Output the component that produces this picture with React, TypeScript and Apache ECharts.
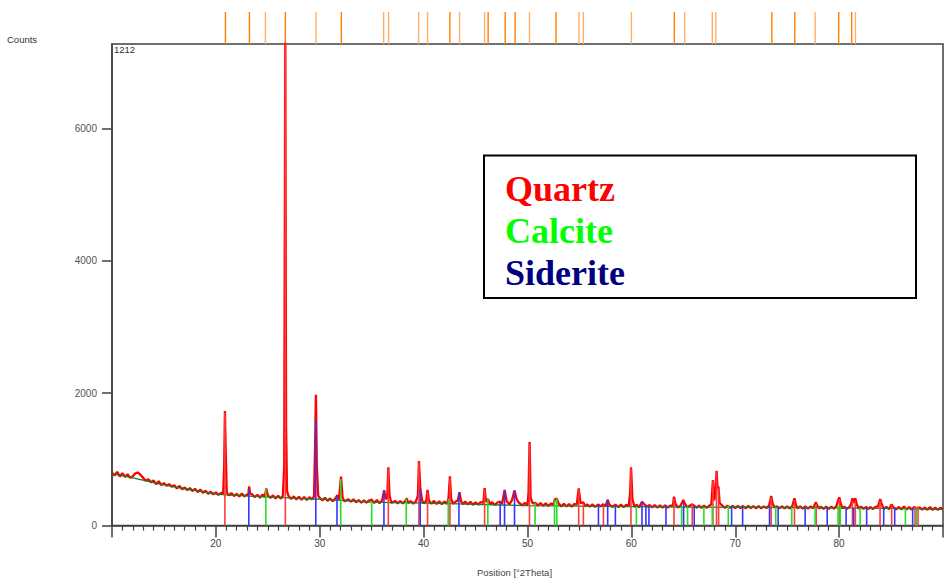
import React, { useEffect, useRef } from "react";
import * as echarts from "echarts";

// Measured scan (2Theta, counts)
const scanProfile: [number, number][] = [
  [10,800],[10.25,755],[10.5,810],[10.75,740],[11,790],[11.25,735],[11.5,775],[11.75,720],
  [12,745],[12.25,790],[12.5,800],[12.75,765],[13,720],[13.25,675],[13.5,700],[13.75,655],
  [14,680],[14.25,625],[14.5,670],[14.75,610],[15,640],[15.25,600],[15.5,625],[15.75,585],
  [16,610],[16.25,560],[16.5,600],[16.75,545],[17,575],[17.25,535],[17.5,565],[17.75,520],
  [18,555],[18.25,505],[18.5,545],[18.75,495],[19,525],[19.25,480],[19.5,510],[19.75,470],
  [20,500],[20.25,462],[20.5,495],[20.7,470],[20.8,900],[20.87,1730],[20.95,1100],[21.05,500],[21.25,455],[21.5,490],[21.75,445],
  [22,480],[22.25,438],[22.5,485],[22.75,440],[23,470],[23.12,455],[23.2,590],[23.3,480],[23.5,470],[23.75,428],
  [24,465],[24.25,420],[24.5,470],[24.7,428],[24.85,560],[25,455],[25.25,418],[25.5,455],[25.75,410],
  [26,450],[26.25,405],[26.45,450],[26.58,900],[26.68,7400],[26.76,1500],[26.85,520],[27,445],[27.25,400],[27.5,440],[27.75,395],
  [28,435],[28.25,390],[28.5,430],[28.75,385],[29,428],[29.25,395],[29.45,440],[29.55,1200],[29.63,1975],[29.72,900],[29.85,450],[30,420],[30.25,378],[30.5,420],[30.75,372],
  [31,410],[31.25,365],[31.5,410],[31.7,460],[31.85,390],[32.05,740],[32.2,420],[32.4,365],[32.75,395],
  [33,360],[33.25,395],[33.5,350],[33.75,385],[34,345],[34.25,380],[34.5,345],[34.75,378],[35,390],[35.25,340],[35.5,385],[35.75,338],
  [36,378],[36.2,535],[36.35,400],[36.5,420],[36.6,880],[36.72,450],[36.9,340],[37.25,372],[37.5,335],[37.75,370],
  [38,335],[38.25,372],[38.38,410],[38.5,340],[38.75,368],[39,330],[39.25,365],[39.45,450],[39.55,975],[39.68,560],[39.85,380],[40,335],[40.25,375],[40.38,540],[40.5,380],[40.75,330],
  [41,372],[41.25,325],[41.5,368],[41.75,322],[42,362],[42.25,328],[42.4,420],[42.53,745],[42.65,400],[42.85,330],[43.1,362],[43.3,380],[43.45,502],[43.6,370],[43.8,322],
  [44,362],[44.25,318],[44.5,360],[44.75,312],[45,352],[45.25,315],[45.5,355],[45.75,340],[45.87,565],[46,360],[46.2,400],[46.35,330],[46.6,350],[46.85,310],
  [47.1,348],[47.37,360],[47.55,330],[47.8,538],[48,365],[48.25,320],[48.5,380],[48.75,528],[48.95,400],[49.2,340],[49.5,305],[49.75,345],
  [50,305],[50.1,500],[50.2,1262],[50.3,420],[50.5,335],[50.75,342],[51,300],[51.25,340],[51.5,298],[51.75,335],
  [52,295],[52.25,332],[52.5,320],[52.65,400],[52.82,405],[53,330],[53.25,290],[53.5,328],[53.75,288],
  [54,325],[54.25,286],[54.5,322],[54.75,318],[54.93,562],[55.1,340],[55.38,350],[55.55,290],[55.75,320],
  [56,285],[56.25,318],[56.5,282],[56.83,320],[57,285],[57.3,322],[57.5,290],[57.72,388],[57.9,310],[58.2,280],[58.46,315],[58.75,278],
  [59,315],[59.25,276],[59.5,312],[59.75,300],[59.88,500],[59.97,880],[60.1,400],[60.3,280],[60.5,312],[60.75,275],
  [61.02,360],[61.25,320],[61.5,285],[61.75,310],[62,274],[62.25,308],[62.5,272],[62.75,305],
  [63,272],[63.25,305],[63.5,270],[63.75,300],[64,300],[64.1,435],[64.25,320],[64.5,272],[64.75,305],[65,385],[65.15,330],[65.4,275],[65.6,300],[65.86,320],[66.05,300],[66.3,268],[66.5,302],[66.75,266],
  [67,300],[67.25,268],[67.5,300],[67.7,320],[67.85,688],[67.98,380],[68.1,500],[68.2,825],[68.3,560],[68.38,587],[68.5,340],[68.75,300],
  [69,268],[69.25,300],[69.5,265],[69.75,298],[70,262],[70.25,296],[70.5,262],[70.75,295],[71,260],[71.25,296],[71.5,262],[71.75,292],
  [72,258],[72.25,294],[72.5,260],[72.75,290],[73,262],[73.25,300],[73.47,446],[73.6,330],[73.8,270],[74,290],[74.25,258],[74.5,290],[74.75,258],
  [75,288],[75.25,256],[75.5,300],[75.7,411],[75.85,310],[76,258],[76.25,290],[76.5,255],[76.75,288],
  [77,254],[77.25,288],[77.5,262],[77.75,350],[77.9,300],[78.1,255],[78.25,286],[78.5,252],[78.75,285],
  [79,252],[79.25,284],[79.5,255],[79.75,300],[79.9,380],[80.02,426],[80.15,330],[80.35,258],[80.5,284],[80.75,252],
  [81,282],[81.15,320],[81.28,411],[81.42,340],[81.56,413],[81.7,320],[81.9,255],[82.1,285],[82.35,250],[82.6,282],[82.85,248],
  [83,280],[83.25,248],[83.5,282],[83.75,290],[83.95,400],[84.1,320],[84.3,250],[84.55,282],[84.8,246],
  [85.05,320],[85.2,278],[85.5,245],[85.75,280],[86,244],[86.25,285],[86.5,242],[86.75,280],[87,240],[87.25,282],[87.5,245],[87.75,275],
  [88,240],[88.25,272],[88.5,238],[88.75,278],[89,236],[89.25,270],[89.5,235],[89.75,268],[90,245],
];

// Fitted background (2Theta, counts)
const backgroundLine: [number, number][] = [
  [10,785],[12,720],[14,650],[16,585],[18,530],[20,478],[22,455],[24,440],[26,425],[28,410],
  [30,398],[32,380],[34,362],[36,350],[40,340],[45,320],[50,302],[55,292],[60,285],[65,280],
  [70,276],[75,272],[80,266],[85,258],[90,245],
];

// Reference sticks (2Theta, counts)
const redSticks: [number, number][] = [
  [20.87,1700],[26.69,7280],[36.6,850],[39.55,950],[40.38,500],[42.53,720],[45.87,540],[50.19,1230],
  [54.93,540],[55.38,330],[57.31,300],[59.96,860],[64.1,400],[65.86,320],[67.85,680],[68.2,800],
  [68.4,560],[73.46,420],[75.7,380],[77.79,330],[80.03,400],[81.28,370],[81.56,370],[83.94,370],
  [85.06,300],[87.31,290],[87.6,290],
];
const blueSticks: [number, number][] = [
  [23.17,543],[29.62,1590],[31.66,442],[36.18,532],[39.67,553],[43.4,502],[47.37,350],[47.79,532],
  [48.75,532],[56.83,317],[57.72,392],[58.46,301],[61.02,362],[61.4,300],[61.69,300],[63.33,300],
  [65.03,340],[66.05,300],[69.65,280],[70.71,280],[73.3,290],[74.13,280],[76.73,270],[78.85,270],
  [80.67,270],[81.4,270],[82.65,265],[84.29,265],[85.35,260],[87.08,260],
];
const greenSticks: [number, number][] = [
  [24.81,553],[32.02,703],[35.0,366],[38.33,407],[42.37,402],[46.18,402],[50.73,342],[52.6,382],
  [52.82,412],[60.48,266],[64.84,290],[65.41,290],[66.98,280],[67.79,300],[69.33,300],[73.9,280],
  [75.44,270],[77.69,270],[79.9,290],[80.1,290],[82.02,265],[86.38,260],[87.43,255],
];

// Peak list marks above the plot (2Theta)
const peakMarks: number[] = [
  20.92, 23.23, 26.69, 32.08, 42.53, 46.21, 47.85, 48.81, 52.75, 64.13, 73.52, 75.73, 79.96, 81.21,
];
const peakMarksFaint: number[] = [
  24.77, 29.64, 36.15, 36.63, 39.52, 40.38, 43.46, 45.87, 50.19, 54.96, 55.38, 60.0, 65.13, 67.79,
  68.13, 77.69, 81.57,
];

const xTicks = [20, 30, 40, 50, 60, 70, 80];
const yTicks = [0, 2000, 4000, 6000];
const legendItems = [
  { name: "Quartz", color: "#ff0000" },
  { name: "Calcite", color: "#00ff00" },
  { name: "Siderite", color: "#000080" },
];

const AXIS = "#404040";
const SANS = "'Liberation Sans', Arial, sans-serif";

function stickSeries(data: [number, number][], color: string) {
  return {
    type: "custom",
    xAxisIndex: 0,
    yAxisIndex: 0,
    data,
    encode: { x: 0, y: 1 },
    z: 5,
    renderItem: (_p: any, api: any) => {
      const x = api.value(0);
      const h = api.value(1);
      const a = api.coord([x, 0]);
      const b = api.coord([x, h]);
      return {
        type: "line",
        shape: { x1: a[0], y1: a[1], x2: b[0], y2: b[1] },
        style: { stroke: color, lineWidth: 1.6 },
      };
    },
  };
}

function markSeries(positions: number[], color: string) {
  return {
    type: "custom",
    xAxisIndex: 1,
    yAxisIndex: 1,
    data: positions.map((p) => [p, 1]),
    encode: { x: 0, y: 1 },
    renderItem: (_p: any, api: any) => {
      const x = api.value(0);
      const a = api.coord([x, 0]);
      const b = api.coord([x, 1]);
      return {
        type: "line",
        shape: { x1: a[0], y1: a[1], x2: b[0], y2: b[1] },
        style: { stroke: color, lineWidth: 1.4 },
      };
    },
  };
}

export default function App() {
  const ref = useRef<HTMLDivElement>(null);
  useEffect(() => {
    if (!ref.current) return;
    const chart = echarts.init(ref.current, null, { renderer: "svg" });
    chart.setOption({
      animation: false,
      backgroundColor: "#ffffff",
      grid: [
        { left: 112, right: 4, top: 44, bottom: 57.5, show: true, borderColor: AXIS, borderWidth: 1.5 },
        { left: 112, right: 4, top: 12, height: 32, show: false },
      ],
      xAxis: [
        {
          type: "value",
          gridIndex: 0,
          min: 10,
          max: 90,
          interval: 10,
          axisLine: { show: true, lineStyle: { color: AXIS, width: 1.5 } },
          axisTick: { show: true, length: 12, lineStyle: { color: AXIS, width: 1.5 } },
          minorTick: { show: true, splitNumber: 10, length: 5, lineStyle: { color: AXIS, width: 1.2 } },
          axisLabel: {
            customValues: xTicks,
            margin: 13,
            color: "#444",
            fontSize: 10,
            fontFamily: SANS,
            formatter: (v: number) => String(v),
          },
          splitLine: { show: false },
        },
        {
          type: "value",
          gridIndex: 1,
          min: 10,
          max: 90,
          show: false,
        },
      ],
      yAxis: [
        {
          type: "value",
          gridIndex: 0,
          min: 0,
          max: 7280,
          interval: 2000,
          axisLine: { show: true, lineStyle: { color: AXIS, width: 1.5 } },
          axisTick: { show: true, length: 10, customValues: yTicks, lineStyle: { color: AXIS, width: 1.5 } },
          axisLabel: {
            customValues: yTicks,
            margin: 15,
            color: "#555",
            fontSize: 10,
            fontFamily: SANS,
            formatter: (v: number) => String(v),
          },
          splitLine: { show: false },
        },
        { type: "value", gridIndex: 1, min: 0, max: 1, show: false },
      ],
      series: [
        {
          type: "line",
          xAxisIndex: 0,
          yAxisIndex: 0,
          data: scanProfile,
          showSymbol: false,
          symbol: "none",
          clip: true,
          lineStyle: { color: "#ff0000", width: 2.3 },
          z: 2,
        },
        {
          type: "line",
          xAxisIndex: 0,
          yAxisIndex: 0,
          data: backgroundLine,
          showSymbol: false,
          symbol: "none",
          smooth: true,
          lineStyle: { color: "#1f7a1f", width: 1.3 },
          z: 3,
        },
        stickSeries(redSticks, "#ff3b3b"),
        stickSeries(greenSticks, "#22e022"),
        stickSeries(blueSticks, "#3535ff"),
        markSeries(peakMarksFaint, "#ffb066"),
        markSeries(peakMarks, "#ff8000"),
      ],
      graphic: [
        {
          type: "text",
          left: 7,
          top: 34,
          style: { text: "Counts", fontSize: 9.5, fill: "#333", fontFamily: SANS },
        },
        {
          type: "text",
          left: 114,
          top: 44.5,
          style: { text: "1212", fontSize: 9.5, fill: "#333", fontFamily: SANS },
          z: 10,
        },
        {
          type: "text",
          x: 514.5,
          y: 572,
          style: {
            text: "Position [°2Theta]",
            fontSize: 9.5,
            fill: "#444",
            fontFamily: SANS,
            align: "center",
            verticalAlign: "middle",
          },
        },
        {
          type: "rect",
          shape: { x: 484, y: 155.5, width: 432, height: 142.5 },
          style: { fill: "#ffffff", stroke: "#000000", lineWidth: 2 },
          z: 20,
        },
        ...legendItems.map((it, i) => ({
          type: "text",
          x: 505,
          y: 189 + i * 42,
          z: 21,
          style: {
            text: it.name,
            fill: it.color,
            fontSize: 36,
            fontWeight: "bold",
            fontFamily: "'Liberation Serif', 'Times New Roman', serif",
            align: "left",
            verticalAlign: "middle",
          },
        })),
      ],
    });
    return () => chart.dispose();
  }, []);
  return (
    <div
      ref={ref}
      style={{ position: "fixed", left: 0, top: 0, width: 947, height: 583 }}
    />
  );
}
